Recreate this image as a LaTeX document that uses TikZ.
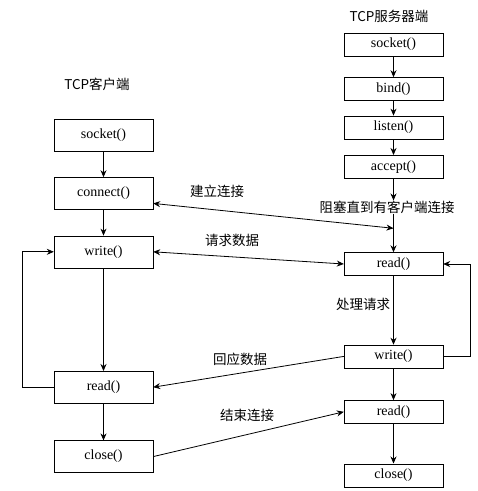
\documentclass[tikz,border=0pt]{standalone}
\usepackage{fontspec}
\setmainfont{Liberation Serif}
\newfontfamily\cjk{Noto Sans CJK SC}
\usetikzlibrary{arrows.meta,positioning}

\begin{document}
\begin{tikzpicture}[x=1pt,y=-1pt,node distance = 26pt]
	\tikzstyle{cbox} = [rectangle,draw = black,minimum width=99pt,minimum height=32pt,inner sep=0pt,font=\fontsize{14}{16}\selectfont]
	\tikzstyle{sbox} = [cbox,minimum height=23pt]
	\tikzstyle{txt} = [inner sep=0pt,font=\cjk\fontsize{13.5}{16}\selectfont]
	\tikzstyle{line} = [line width=0.8pt,>={Stealth[length=7pt,width=6pt]}]
	\useasboundingbox (0,0) rectangle (478,491);
	% client
	\node(ctitle)[txt] at (97,84) {TCP客户端};
	\node(csock)[cbox] at (103.5,135) {socket()};
	\node(cconn)[cbox, below = 26pt of csock] {connect()};
	\node(cwrite)[cbox, below = 26pt of cconn] {write()};
	\node(cread)[cbox, below = 103pt of cwrite] {read()};
	\node(cclose)[cbox, below = 37pt of cread] {close()};
	% server
	\node(stitle)[txt] at (389,16) {TCP服务器端};
	\node(ssock)[sbox] at (393.5,44.5) {socket()};
	\node(sbind)[sbox, below = 21pt of ssock] {bind()};
	\node(slisten)[sbox, below = 15pt of sbind] {listen()};
	\node(saccept)[sbox, below = 16pt of slisten] {accept()};
	\node(swait)[txt] at (387,207) {阻塞直到有客户端连接};
	\node(sread)[sbox] at (393.5,264) {read()};
	\node(swrite)[sbox, below = 69pt of sread] {write()};
	\node(sread2)[sbox, below = 32pt of swrite] {read()};
	\node(sclose)[sbox, below = 40pt of sread2] {close()};
	\coordinate[above = 24pt of sread] (sjoin);
	% labels
	\node(lconn)[txt] at (217,191) {建立连接};
	\node(lreq)[txt] at (232,240) {请求数据};
	\node(lproc)[txt] at (363,304) {处理请求};
	\node(lresp)[txt] at (240,359) {回应数据};
	\node(lend)[txt] at (247,415) {结束连接};
	% client flow
	\draw[line,->](csock) -- (cconn);
	\draw[line,->](cconn) -- (cwrite);
	\draw[line,->](cwrite) -- (cread);
	\draw[line,->](cread) -- (cclose);
	\draw[line,->](cread.west) -- ++(-31,0) |- (cwrite.west);
	% server flow
	\draw[line,->](ssock) -- (sbind);
	\draw[line,->](sbind) -- (slisten);
	\draw[line,->](slisten) -- (saccept);
	\draw[line,->](saccept.south) -- (saccept.south |- swait.north);
	\draw[line,->](swait.south -| sread.north) -- (sread.north);
	\draw[line,->](sread) -- (swrite);
	\draw[line,->](swrite) -- (sread2);
	\draw[line,->](sread2) -- (sclose);
	\draw[line,->](swrite.east) -- ++(27,0) |- (sread.east);
	% between the two
	\draw[line,<->]([yshift=-10pt]cconn.east) -- (sjoin);
	\draw[line,<->](cwrite.east) -- (sread.west);
	\draw[line,->](swrite.west) -- (cread.east);
	\draw[line,->](cclose.east) -- (sread2.west);
\end{tikzpicture}
\end{document}
